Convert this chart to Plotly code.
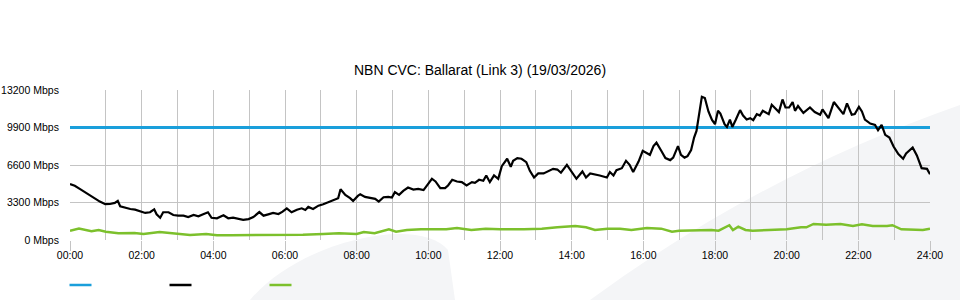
import plotly.graph_objects as go

# ---------------- data ----------------
title_text = "NBN CVC: Ballarat (Link 3) (19/03/2026)"
tick_minutes = [0, 120, 240, 360, 480, 600, 720, 840, 960, 1080, 1200, 1320, 1440]
tick_labels = ["00:00", "02:00", "04:00", "06:00", "08:00", "10:00", "12:00",
               "14:00", "16:00", "18:00", "20:00", "22:00", "24:00"]
y_ticks = [0, 3300, 6600, 9900, 13200]

capacity_minutes = [0, 1440]
capacity_mbps = [9900, 9900]

traffic_minutes = [
    0, 8, 17, 25, 34, 42, 50, 59, 67, 75, 80, 84, 92, 101, 109, 117, 126, 134, 141, 145,
    151, 156, 165, 173, 181, 190, 198, 207, 215, 223, 231, 237, 246, 257, 265, 273, 282, 290, 299, 307,
    317, 324, 332, 340, 349, 356, 363, 371, 380, 388, 394, 399, 407, 416, 424, 433, 441, 449, 453, 461,
    469, 474, 482, 486, 494, 502, 511, 517, 525, 533, 539, 544, 551, 558, 566, 575, 583, 592, 599, 606,
    612, 620, 628, 633, 640, 648, 656, 664, 673, 678, 685, 692, 697, 703, 710, 717, 723, 728, 732, 738,
    742, 749, 756, 764, 770, 777, 784, 793, 801, 809, 816, 822, 832, 840, 848, 858, 864, 871, 879, 887,
    899, 904, 910, 915, 924, 931, 937, 943, 952, 959, 967, 971, 977, 982, 990, 997, 1005, 1010, 1018, 1023,
    1029, 1034, 1040, 1045, 1049, 1053, 1058, 1063, 1069, 1075, 1080, 1085, 1089, 1096, 1100, 1105, 1109, 1115, 1122, 1127,
    1133, 1139, 1144, 1150, 1155, 1160, 1170, 1175, 1182, 1187, 1193, 1198, 1204, 1210, 1214, 1219, 1228, 1239, 1247, 1256,
    1260, 1270, 1279, 1287, 1295, 1301, 1309, 1314, 1321, 1326, 1331, 1340, 1348, 1353, 1359, 1365, 1372, 1379, 1387, 1395,
    1400, 1411, 1418, 1426, 1435, 1440,
]
traffic_mbps = [
    4920, 4770, 4480, 4210, 3910, 3620, 3380, 3150, 3170, 3260, 3440, 2970, 2840, 2730, 2670, 2550, 2380, 2440, 2700, 2260,
    1960, 2440, 2440, 2200, 2140, 2140, 2020, 2200, 2080, 2260, 2440, 1960, 1910, 2170, 1910, 1960, 1840, 1780, 1840, 2020,
    2460, 2140, 2260, 2380, 2290, 2490, 2790, 2440, 2670, 2790, 2640, 2910, 2730, 3020, 3150, 3320, 3530, 3680, 4470, 3970,
    3680, 3440, 3880, 4030, 3790, 3680, 3620, 3380, 3760, 3790, 3730, 4210, 3970, 4320, 4620, 4440, 4500, 4390, 4860, 5390,
    5150, 4560, 4560, 4800, 5300, 5150, 5090, 4800, 5090, 5030, 5300, 5210, 5680, 5090, 5680, 5390, 6500, 6850, 7150, 6440,
    6970, 7210, 7150, 6850, 6090, 5500, 5860, 5860, 6090, 6260, 6200, 5920, 6620, 6030, 5390, 6030, 5500, 5860, 5800, 5680,
    5500, 5980, 5680, 6150, 6320, 6970, 6620, 5980, 6900, 7850, 7610, 7490, 8260, 8560, 7850, 7210, 7030, 7250, 8260, 7490,
    7250, 7380, 7910, 9020, 9600, 11020, 12610, 12500, 11310, 10570, 10190, 11370, 11130, 10190, 9950, 10600, 9950, 10600, 11430, 10950,
    10600, 10720, 10550, 11080, 10950, 11370, 11080, 11900, 11490, 11260, 12370, 11660, 11660, 12140, 11370, 11790, 11190, 11660, 11260, 11020,
    11490, 10720, 12140, 11610, 11080, 12020, 11020, 11080, 11720, 11310, 10600, 10250, 10130, 9660, 10130, 9250, 9020, 8230, 7560, 7150,
    7610, 8140, 7440, 6320, 6260, 5790,
]

other_minutes = [
    0, 15, 36, 48, 60, 81, 108, 123, 150, 180, 201, 228, 246, 270, 300, 330, 360, 390, 424, 450,
    480, 492, 510, 519, 534, 546, 564, 588, 606, 630, 648, 672, 696, 720, 760, 790, 816, 846, 864, 879,
    900, 921, 940, 966, 990, 1008, 1020, 1038, 1056, 1074, 1086, 1098, 1104, 1110, 1119, 1131, 1143, 1170, 1200, 1224,
    1233, 1245, 1266, 1290, 1311, 1326, 1344, 1368, 1377, 1392, 1410, 1428, 1440,
]
other_mbps = [
    820, 1000, 770, 880, 730, 590, 620, 530, 700, 530, 440, 530, 410, 410, 410, 440, 440, 470, 530, 590,
    530, 710, 590, 700, 940, 730, 880, 940, 940, 940, 1060, 880, 1000, 940, 940, 1000, 1120, 1240, 1120, 880,
    1000, 1000, 880, 1060, 1000, 730, 820, 850, 880, 880, 820, 1180, 1300, 880, 1180, 880, 820, 880, 940, 1120,
    1120, 1410, 1350, 1410, 1240, 1380, 1240, 1240, 1300, 940, 880, 880, 1000,
]

# ---------------- style ----------------
BLUE = "#1a9fdb"
BLACK = "#000000"
GREEN = "#7cc02c"
GRID = "#c4c4c4"
SWOOSH = "#f4f5f7"
FONT = "Liberation Sans, Arial, sans-serif"

W, H = 960, 300
ML, MR, MT, MB = 70, 30, 90, 60
PW, PH = W - ML - MR, H - MT - MB


def px(x):
    return (x - ML) / PW


def py(y):
    return (H - MB - y) / PH


fig = go.Figure()
fig.add_trace(go.Scatter(x=capacity_minutes, y=capacity_mbps, mode="lines",
                         line=dict(color=BLUE, width=3), hoverinfo="skip"))
fig.add_trace(go.Scatter(x=other_minutes, y=other_mbps, mode="lines",
                         line=dict(color=GREEN, width=2.5), hoverinfo="skip"))
fig.add_trace(go.Scatter(x=traffic_minutes, y=traffic_mbps, mode="lines",
                         line=dict(color=BLACK, width=2.2), hoverinfo="skip"))

# background swoosh decorations (paper coordinates)
dome = (f"M {px(250)},{py(300)} C {px(300)},{py(240)} {px(420)},{py(215)} {px(448)},{py(250)} "
        f"L {px(455)},{py(300)} Z")
band = (f"M {px(590)},{py(300)} Q {px(760)},{py(175)} {px(960)},{py(105)} "
        f"L {px(960)},{py(300)} Z")
shapes = [
    dict(type="path", xref="paper", yref="paper", path=dome, fillcolor=SWOOSH,
         line=dict(width=0), layer="below"),
    dict(type="path", xref="paper", yref="paper", path=band, fillcolor=SWOOSH,
         line=dict(width=0), layer="below"),
]
# legend swatches (no text)
for x0, col in [(69.5, BLUE), (169.5, BLACK), (269.5, GREEN)]:
    shapes.append(dict(type="line", xref="paper", yref="paper",
                       x0=px(x0), x1=px(x0 + 22), y0=py(285), y1=py(285),
                       line=dict(color=col, width=2.5)))

fig.update_layout(
    width=W, height=H,
    margin=dict(l=ML, r=MR, t=MT, b=MB, autoexpand=False),
    paper_bgcolor="white",
    plot_bgcolor="rgba(0,0,0,0)",
    showlegend=False,
    font=dict(family=FONT, size=10.5, color="#000"),
    title=dict(text=title_text, x=0.5, xref="container", xanchor="center",
               y=1 - 70 / H, yref="container", yanchor="middle",
               font=dict(family=FONT, size=14, color="#000")),
    shapes=shapes,
    xaxis=dict(range=[0, 1440], tickmode="array", tickvals=tick_minutes, ticktext=tick_labels,
               showgrid=True, gridcolor=GRID, gridwidth=1, zeroline=False, showline=False,
               automargin=False,
               ticks="outside", ticklen=10, tickcolor=GRID, tickwidth=1,
               ticklabelstandoff=-5,
               minor=dict(tickmode="linear", tick0=0, dtick=60, showgrid=True,
                          gridcolor=GRID, gridwidth=1, ticks="")),
    yaxis=dict(range=[0, 13200], tickmode="array", tickvals=y_ticks,
               ticktext=[f"{v} Mbps" for v in y_ticks],
               showgrid=True, gridcolor=GRID, gridwidth=1, zeroline=False, showline=False,
               automargin=False,
               ticks="outside", ticklen=8, tickcolor="rgba(0,0,0,0)"),
)

fig.write_html("out.html")
